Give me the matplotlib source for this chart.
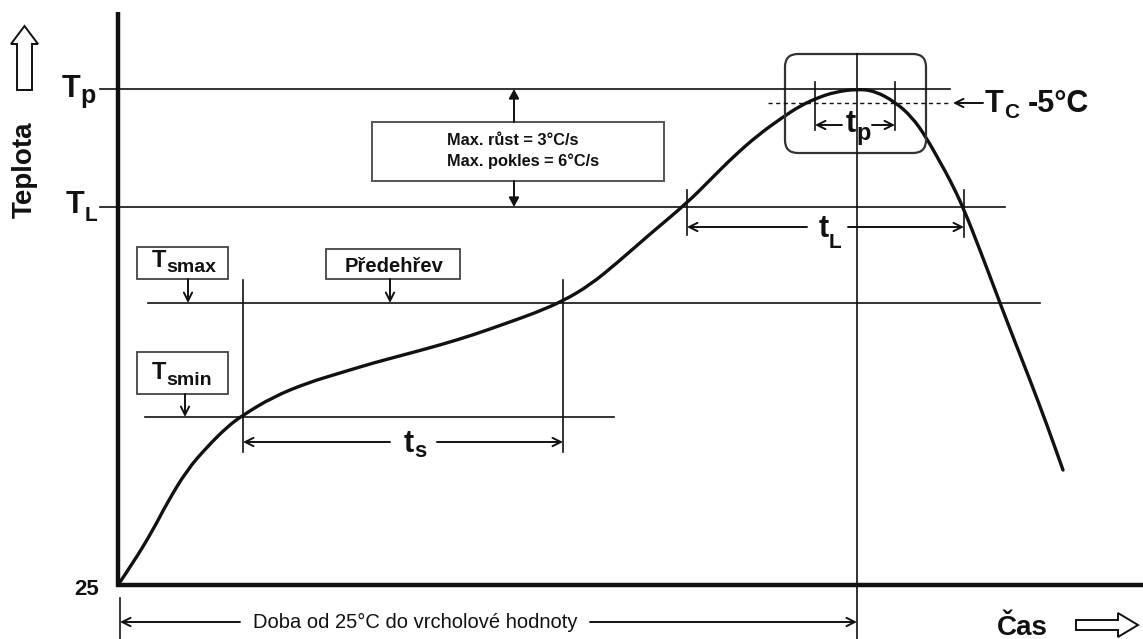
import matplotlib
matplotlib.use('Agg')
import matplotlib.pyplot as plt
from matplotlib.patches import FancyBboxPatch, Rectangle, Polygon, PathPatch
from matplotlib.path import Path

# Profil pájení (souřadnice, osa y roste dolů)
profile_time = [118, 133, 153, 167, 187, 207, 227, 243, 273, 307, 340, 373,
                407, 440, 473, 507, 535, 563, 590, 617, 650, 687, 710, 733,
                758, 783, 800, 817, 835, 857, 875, 895, 912, 926, 940, 950,
                963, 980, 1000, 1015, 1030, 1047, 1063]
profile_temp = [585, 563, 530, 503, 470, 447, 427, 415, 397, 383, 373, 363,
                354, 345, 335, 323, 313, 301, 285, 263, 234, 203, 180, 157,
                135, 117, 106, 98, 92, 89, 91, 102, 117, 137, 162, 180,
                207, 250, 303, 342, 380, 425, 470]

# Úrovně teplot a časové body
level_names = ['Tp', 'TL', 'Tsmax', 'Tsmin', 'Tc']
level_values = [89, 207, 303, 417, 103]
t_smin, t_smax = 243, 563
t_l_start, t_l_end = 687, 964
t_p_start, t_p_end = 815, 895
t_peak = 857

INK = '#111111'
FONT = 'Liberation Sans'

fig = plt.figure(figsize=(11.43, 6.39), dpi=100)
ax = fig.add_axes([0, 0, 1, 1])
ax.set_xlim(0, 1143)
ax.set_ylim(639, 0)
ax.axis('off')

Tp, TL, Tsmax, Tsmin, Tc = level_values


def arrow(x1, y1, x2, y2, style='->', lw=1.4, hl=0.6, hw=0.3):
    ax.annotate('', xy=(x2, y2), xytext=(x1, y1),
                arrowprops=dict(arrowstyle=f'{style},head_length={hl},head_width={hw}',
                                color=INK, lw=lw, shrinkA=0, shrinkB=0))


def label(x, y, main, sub, size, subsize, dy):
    # hlavní písmeno + dolní index
    t = ax.text(x, y, main, fontsize=size, fontweight='bold', family=FONT,
                color=INK, ha='left', va='baseline')
    fig.canvas.draw()
    bb = t.get_window_extent().transformed(ax.transData.inverted())
    ax.text(bb.x1, y + dy, sub, fontsize=subsize, fontweight='bold',
            family=FONT, color=INK, ha='left', va='baseline')


# osy
ax.plot([118, 118], [12, 587], color=INK, lw=3.2, solid_capstyle='butt')
ax.plot([116, 1143], [585, 585], color=INK, lw=3.2, solid_capstyle='butt')

# vodorovné úrovně
ax.plot([100, 950], [Tp, Tp], color=INK, lw=1.2)
ax.plot([100, 1005], [TL, TL], color=INK, lw=1.2)
ax.plot([148, 1040], [Tsmax, Tsmax], color=INK, lw=1.2)
ax.plot([145, 614], [Tsmin, Tsmin], color=INK, lw=1.2)
ax.plot([768, 950], [Tc, Tc], color=INK, lw=1.0, dashes=(3, 2.5))

# svislé čáry
ax.plot([t_smin, t_smin], [280, 452], color=INK, lw=1.2)
ax.plot([t_smax, t_smax], [280, 452], color=INK, lw=1.2)
ax.plot([t_peak, t_peak], [54, 639], color=INK, lw=1.2)
ax.plot([t_l_start, t_l_start], [190, 235], color=INK, lw=1.2)
ax.plot([t_l_end, t_l_end], [190, 237], color=INK, lw=1.2)
ax.plot([t_p_start, t_p_start], [82, 130], color=INK, lw=1.2)
ax.plot([t_p_end, t_p_end], [82, 130], color=INK, lw=1.2)
ax.plot([120, 120], [598, 639], color=INK, lw=1.2)

# křivka - vyhlazená kvadratickými Bézierovými úseky přes body profilu
pts = list(zip(profile_time, profile_temp))
verts = [pts[0]]
codes = [Path.MOVETO]
for i in range(1, len(pts) - 1):
    mid = ((pts[i][0] + pts[i + 1][0]) / 2, (pts[i][1] + pts[i + 1][1]) / 2)
    verts += [pts[i], mid]
    codes += [Path.CURVE3, Path.CURVE3]
verts.append(pts[-1])
codes.append(Path.LINETO)
ax.add_patch(PathPatch(Path(verts, codes), fill=False, edgecolor=INK,
                       lw=2.4, capstyle='round', joinstyle='round'))

# rámeček kolem vrcholu
ax.add_patch(FancyBboxPatch((785, 54), 141, 99,
                            boxstyle='round,pad=0,rounding_size=13',
                            fill=False, edgecolor='#333333', lw=1.6))

# rámeček s rychlostmi
ax.add_patch(Rectangle((372, 122), 292, 59, fill=False,
                       edgecolor='#555555', lw=1.4))
ax.text(447, 145, 'Max. růst = 3°C/s', fontsize=11.8, fontweight='bold',
        family=FONT, color=INK, va='baseline')
ax.text(447, 166, 'Max. pokles = 6°C/s', fontsize=11.8, fontweight='bold',
        family=FONT, color=INK, va='baseline')
arrow(514, 122, 514, Tp, style='-|>', hl=0.55, hw=0.3)
arrow(514, 181, 514, TL, style='-|>', hl=0.55, hw=0.3)

# popisky v rámečcích
for (x0, y0, w, h) in [(137, 247, 91, 32), (326, 249, 134, 30), (137, 352, 91, 42)]:
    ax.add_patch(Rectangle((x0, y0), w, h, fill=False,
                           edgecolor='#444444', lw=1.3))
label(152, 267, 'T', 'smax', 17, 14, 5)
label(152, 379, 'T', 'smin', 17, 14, 6)
ax.text(345, 272, 'Předehřev', fontsize=14.5, fontweight='bold', family=FONT,
        color=INK, va='baseline')
arrow(188, 279, 188, Tsmax)
arrow(390, 279, 390, Tsmax)
arrow(185, 394, 185, Tsmin)

# t_s
arrow(390, 442, t_smin, 442)
arrow(437, 442, t_smax, 442)
label(404, 452, 't', 's', 22, 16, 5)

# t_L
arrow(807, 227, t_l_start, 227)
arrow(848, 227, t_l_end, 227)
label(819, 237, 't', 'L', 22, 15, 11)

# t_p
arrow(842, 125, t_p_start, 125)
arrow(872, 125, t_p_end, 125)
label(846, 132, 't', 'p', 22, 17, 8)

# T_C -5°C
arrow(983, Tc, 953, Tc)
ax.text(985, 112, 'T', fontsize=22, fontweight='bold', family=FONT,
        color=INK, va='baseline')
ax.text(1004, 118, 'C', fontsize=15, fontweight='bold', family=FONT,
        color=INK, va='baseline')
ax.text(1028, 112, '-5°C', fontsize=22, fontweight='bold', family=FONT,
        color=INK, va='baseline')

# popisky osy y
label(62, 97, 'T', 'p', 22, 18, 6)
label(66, 213, 'T', 'L', 22, 15, 8)
ax.text(99, 595, '25', fontsize=16, fontweight='bold', family=FONT,
        color=INK, ha='right', va='baseline')
ax.text(25, 170, 'Teplota', fontsize=20, fontweight='bold', family=FONT,
        color=INK, rotation=90, ha='center', va='center')
ax.add_patch(Polygon([(17, 90), (32, 90), (32, 44), (38, 44), (24.5, 26),
                      (11, 44), (17, 44)], closed=True, fill=False,
                     edgecolor=INK, lw=1.4))

# osa x
ax.text(997, 635, 'Čas', fontsize=20, fontweight='bold', family=FONT,
        color=INK, va='baseline')
ax.add_patch(Polygon([(1076, 620), (1118, 620), (1118, 613), (1138, 625),
                      (1118, 637), (1118, 630), (1076, 630)], closed=True,
                     fill=False, edgecolor=INK, lw=1.4))

arrow(240, 622, 120, 622)
arrow(590, 622, t_peak, 622)
ax.text(415, 628, 'Doba od 25°C do vrcholové hodnoty', fontsize=14.5,
        family=FONT, color=INK, ha='center', va='baseline')

fig.savefig('out.png', dpi=100, facecolor='white')
